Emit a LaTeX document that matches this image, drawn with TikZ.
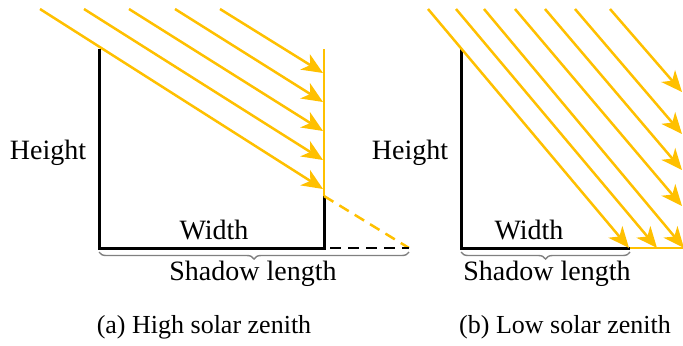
\documentclass[tikz,border=0pt]{standalone}
\usepackage{fontspec}
\setmainfont{Liberation Serif}
\usetikzlibrary{arrows.meta,decorations.pathreplacing}
\definecolor{sun}{HTML}{FFC000}
\definecolor{bracegray}{HTML}{808080}
\begin{document}
\begin{tikzpicture}[x=0.5pt,y=-0.5pt,
  wall/.style={line width=1.5pt, black},
  lit/.style={line width=1.25pt, sun},
  ray/.style={line width=1.25pt, sun, -{Stealth[length=10.5pt,width=9pt,inset=3pt]}},
  shadowdash/.style={line width=1.25pt, dash pattern=on 5.5pt off 3.5pt},
  bracestyle/.style={decorate, decoration={brace, mirror, amplitude=3.5pt}, bracegray, line width=0.7pt},
  lbl/.style={font=\fontsize{14}{16}\selectfont, inner sep=0pt},
  captext/.style={font=\fontsize{13}{15}\selectfont, inner sep=0pt}]
\useasboundingbox (0,0) rectangle (683,345);

% ---------- panel (a) ----------
\coordinate (aTL) at (99,49);
\coordinate (aBL) at (99,248);
\coordinate (aBR) at (324,248);
\coordinate (aTR) at (324,49);
\coordinate (aMR) at (324,196);
\coordinate (aSh) at (409,248);

\draw[wall] (aTL) -- (aBL) -- (aBR) -- (aMR);
\draw[lit] (aTR) -- (aMR);
\draw[shadowdash, sun] (aMR) -- (aSh);
\draw[shadowdash, black] ([xshift=3pt]aBR) -- (aSh);

\foreach \sx/\ey [count=\i] in {40/189, 84/160, 129/131, 175/102, 220/73}{
  \coordinate (as\i) at (\sx,9);
  \coordinate (ae\i) at (323,\ey);
  \draw[ray] (as\i) -- (ae\i);
}

\node[lbl] (aheight) at (48,153) {Height};
\node[lbl] (awidth) at (214,230) {Width};
\draw[bracestyle] (99,252) -- (409,252);
\node[lbl] (ashadow) at (253,274) {Shadow length};
\node[captext] (acap) at (204,327) {(a) High solar zenith};

% ---------- panel (b) ----------
\coordinate (bTL) at (461,49);
\coordinate (bBL) at (461,248);
\coordinate (bBR) at (630,248);
\coordinate (bEnd) at (690,248);

\draw[wall] (bTL) -- (bBL) -- (bBR);
\draw[lit] (bBR) -- (bEnd);

\foreach \sx/\ex/\ey [count=\i] in {428/629/248, 456/657/248, 484/684/248,
                                   515/682/206, 545/682/170, 575/682/134, 610/682/92}{
  \coordinate (bs\i) at (\sx,9);
  \coordinate (be\i) at (\ex,\ey);
  \draw[ray] (bs\i) -- (be\i);
}

\node[lbl] (bheight) at (410,153) {Height};
\node[lbl] (bwidth) at (529,230) {Width};
\draw[bracestyle] (461,252) -- (630,252);
\node[lbl] (bshadow) at (547,274) {Shadow length};
\node[captext] (bcap) at (565,327) {(b) Low solar zenith};
\end{tikzpicture}
\end{document}
